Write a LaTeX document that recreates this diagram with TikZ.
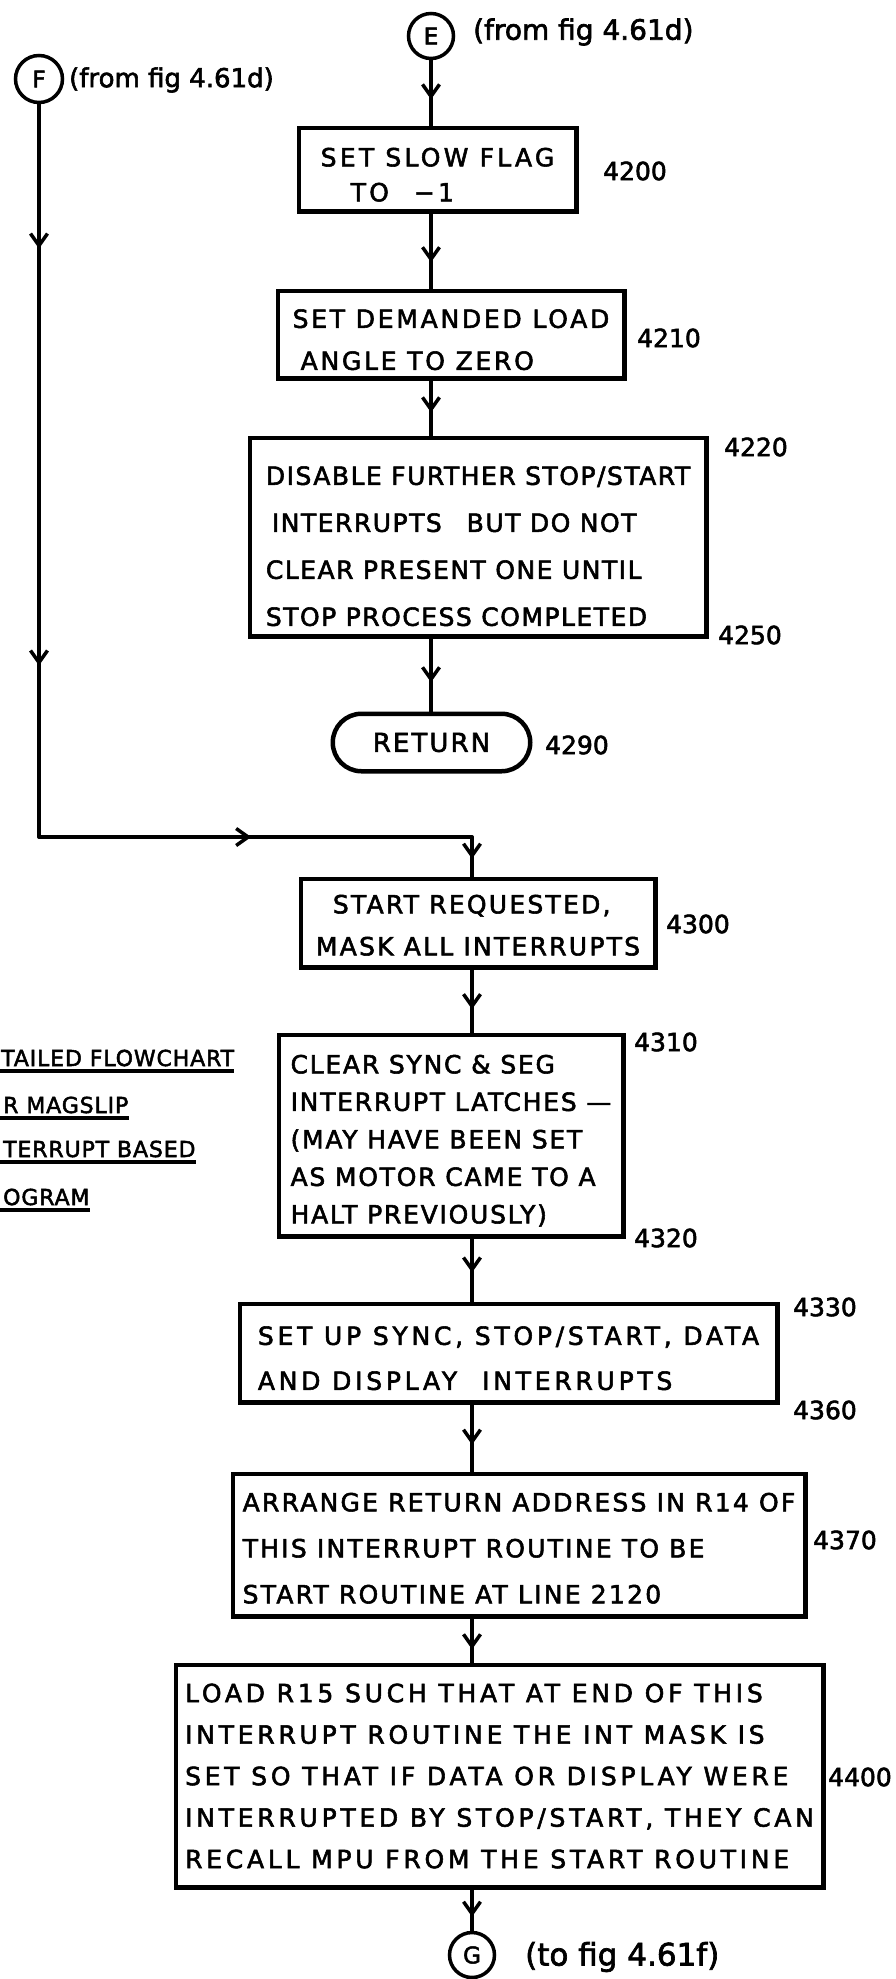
\documentclass[tikz,border=0pt]{standalone}
\usepackage{fontspec}
\setmainfont{DejaVu Sans}[FakeBold=2.2]
\usetikzlibrary{arrows.meta,decorations.markings,shapes.misc}

% box lettering: baseline skip and letter spacing per box
\newcommand\boxtext[2]{\fontsize{25pt}{#1pt}\selectfont\addfontfeature{LetterSpace=#2}}
% taller first line, pushes a box's text block down
\newcommand\lift[1]{\rule{0pt}{#1pt}}

\tikzset{
  vtip/.tip={Straight Barb[length=12pt,width=17pt]},
  stepbox/.style={draw, line width=4.5pt, align=left, inner xsep=0pt, inner ysep=2pt},
  endbox/.style={draw, line width=4.5pt, rounded rectangle, inner sep=3pt,
    font=\fontsize{26pt}{30pt}\selectfont\addfontfeature{LetterSpace=8}},
  connector/.style={draw, circle, line width=3.5pt, inner sep=0pt,
    font=\fontsize{23pt}{26pt}\selectfont},
  link/.style={line width=3.5pt, line cap=round},
  marrow/.style={postaction={decorate},
    decoration={markings, mark=at position #1 with {\arrow{vtip}}}},
  marrows/.style 2 args={postaction={decorate},
    decoration={markings, mark=at position #1 with {\arrow{vtip}},
                          mark=at position #2 with {\arrow{vtip}}}},
  lineno/.style={font=\fontsize{25pt}{30pt}\selectfont, inner sep=0pt, anchor=west},
  note/.style={inner sep=0pt, anchor=west},
  title/.style={font=\fontsize{22pt}{26pt}\selectfont\addfontfeature{LetterSpace=4},
    inner sep=0pt, anchor=base west},
  uline/.style={line width=3.5pt},
}

\begin{document}
\begin{tikzpicture}[x=1pt,y=-1pt]
\fill[white] (0,0) rectangle (895,1979);
\useasboundingbox (0,0) rectangle (895,1979);

% off-page connectors
\node[connector, minimum size=45pt] (E) at (431,36) {E};
\node[note, font=\fontsize{28pt}{32pt}\selectfont] (Enote) at (473,32) {(from fig 4.61d)};
\node[connector, minimum size=47pt] (F) at (39,79) {F};
\node[note, font=\fontsize{26pt}{30pt}\selectfont] (Fnote) at (69,80) {(from fig 4.61d)};

% stop branch
\node[stepbox, minimum width=277.5, minimum height=83.5, font=\boxtext{35}{13}]
  (s4200) at (437.5,169.5) {\lift{29}SET SLOW FLAG\\\hspace*{30pt}TO\quad −1};
\node[stepbox, minimum width=346.5, minimum height=87.5, font=\boxtext{42}{11}]
  (s4210) at (451,334.5) {\lift{29}SET DEMANDED LOAD\\\hspace*{8pt}ANGLE TO ZERO};
\node[stepbox, minimum width=456.5, minimum height=198.5, font=\boxtext{47}{6}]
  (s4220) at (478,537) {\lift{37}DISABLE FURTHER STOP/START\\\hspace*{6pt}INTERRUPTS\quad BUT DO NOT\\CLEAR PRESENT ONE UNTIL\\STOP PROCESS COMPLETED};
\node[endbox, minimum width=203.5, minimum height=57.5] (ret) at (431.5,742.5) {RETURN};

% start branch
\node[stepbox, minimum width=354.5, minimum height=88.5, font=\boxtext{42}{9}]
  (s4300) at (478,923) {\lift{23}\hspace*{17pt}START REQUESTED,\\MASK ALL INTERRUPTS};
\node[stepbox, minimum width=344.5, minimum height=201.5, font=\boxtext{37.5}{7}]
  (s4310) at (451,1135.5) {\lift{29}CLEAR SYNC \& SEG\\INTERRUPT LATCHES —\\(MAY HAVE BEEN SET\\AS MOTOR CAME TO A\\HALT PREVIOUSLY)};
\node[stepbox, minimum width=537.5, minimum height=98.5, font=\boxtext{45}{15}]
  (s4330) at (508.5,1353) {\lift{29}SET UP SYNC, STOP/START, DATA\\AND DISPLAY\quad INTERRUPTS};
\node[stepbox, minimum width=572.5, minimum height=142.5, font=\boxtext{46}{9}]
  (s4370) at (519,1545) {\lift{25}ARRANGE RETURN ADDRESS IN R14 OF\\THIS INTERRUPT ROUTINE TO BE\\START ROUTINE AT LINE 2120};
\node[stepbox, minimum width=647.5, minimum height=222.5, font=\boxtext{41.5}{15}]
  (s4400) at (499.5,1776) {LOAD R15 SUCH THAT AT END OF THIS\\INTERRUPT ROUTINE THE INT MASK IS\\SET SO THAT IF DATA OR DISPLAY WERE\\INTERRUPTED BY STOP/START, THEY CAN\\RECALL MPU FROM THE START ROUTINE};
\node[connector, minimum size=45pt] (G) at (472,1955) {G};
\node[note, font=\fontsize{31pt}{34pt}\selectfont] (Gnote) at (525,1957) {(to fig 4.61f)};

% program line numbers
\node[lineno] (n4200) at (603,171) {4200};
\node[lineno] (n4210) at (637,338) {4210};
\node[lineno] (n4220) at (724,447) {4220};
\node[lineno] (n4250) at (718,635) {4250};
\node[lineno] (n4290) at (545,745) {4290};
\node[lineno] (n4300) at (666,924) {4300};
\node[lineno] (n4310) at (634,1042) {4310};
\node[lineno] (n4320) at (634,1238) {4320};
\node[lineno] (n4330) at (793,1307) {4330};
\node[lineno] (n4360) at (793,1410) {4360};
\node[lineno] (n4370) at (813,1540) {4370};
\node[lineno] (n4400) at (828,1777) {4400};

% stop branch flow
\draw[link, marrow=0.60] (E.south) -- (s4200.north -| E);
\draw[link, marrow=0.65] (s4200.south -| E) -- (s4210.north -| E);
\draw[link, marrow=0.58] (s4210.south -| E) -- (s4220.north -| E);
\draw[link, marrow=0.60] (s4220.south -| E) -- (ret.north -| E);

% entry F joins the start branch
\coordinate (fturn) at (39,837);
\coordinate (join) at (472,837);
\draw[link, marrows={0.197}{0.766}] (F.south) -- (fturn);
\draw[link, marrow=0.49] (fturn) -- (join);
\draw[link, marrow=0.55] (join) -- (s4300.north -| join);

% start branch flow
\draw[link, marrow=0.63] (s4300.south -| join) -- (s4310.north -| join);
\draw[link, marrow=0.54] (s4310.south -| join) -- (s4330.north -| join);
\draw[link, marrow=0.60] (s4330.south -| join) -- (s4370.north -| join);
\draw[link, marrow=0.70] (s4370.south -| join) -- (s4400.north -| join);
\draw[link, marrow=0.66] (s4400.south -| join) -- (G.north);

% figure title at the left edge
\node[title] (t1) at (1,1066) {TAILED FLOWCHART};
\node[title] (t2) at (3,1113) {R MAGSLIP};
\node[title] (t3) at (3,1157) {TERRUPT BASED};
\node[title] (t4) at (3,1205) {OGRAM};
\draw[uline] (0,1071) -- ([yshift=-5pt]t1.base east);
\draw[uline] (0,1118) -- ([yshift=-5pt]t2.base east);
\draw[uline] (0,1162) -- ([yshift=-5pt]t3.base east);
\draw[uline] (0,1210) -- ([yshift=-5pt]t4.base east);
\end{tikzpicture}
\end{document}
